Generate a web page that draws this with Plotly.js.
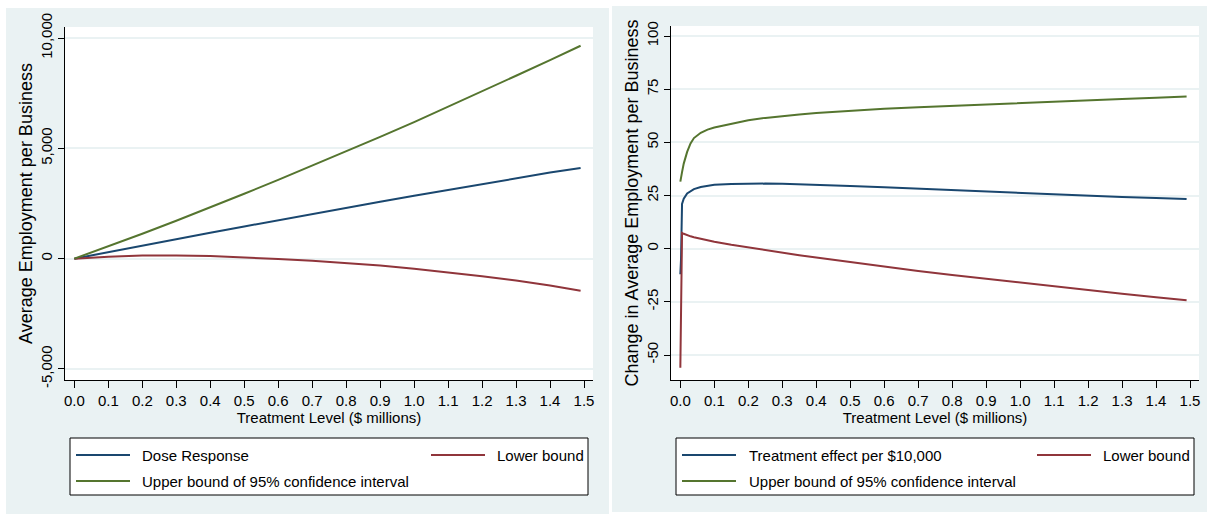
<!DOCTYPE html>
<html>
<head>
<meta charset="utf-8">
<script src="https://cdn.plot.ly/plotly-3.0.1.min.js"></script>
<style>
  html, body { margin: 0; padding: 0; background: #ffffff; }
  #chart { width: 1207px; height: 514px; }
</style>
</head>
<body>
<div id="chart"></div>
<script>
// ---------- Data ----------
// Left panel: dose response in $ millions of treatment
const leftX = [0, 0.1, 0.2, 0.3, 0.4, 0.5, 0.6, 0.7, 0.8, 0.9, 1.0, 1.1, 1.2, 1.3, 1.4, 1.49];
const doseResponse = [0, 300, 595, 885, 1175, 1460, 1745, 2025, 2305, 2580, 2850, 3120, 3385, 3645, 3900, 4110];
const lowerLeft = [0, 90, 140, 145, 115, 60, -10, -95, -195, -315, -455, -615, -795, -995, -1215, -1450];
const upperLeft = [0, 560, 1130, 1720, 2320, 2940, 3570, 4210, 4860, 5520, 6190, 6880, 7580, 8290, 9000, 9650];

// Right panel: treatment effect per $10,000
const rightX = [0, 0.002, 0.005, 0.01, 0.02, 0.03, 0.04, 0.06, 0.08, 0.1, 0.15, 0.2, 0.25, 0.3, 0.35, 0.4, 0.5, 0.6, 0.7, 0.8, 0.9, 1.0, 1.1, 1.2, 1.3, 1.4, 1.49];
const effectPer10k = [-12, -5, 21, 23.5, 26, 27.2, 28, 29, 29.6, 30, 30.4, 30.6, 30.6, 30.5, 30.3, 30.1, 29.5, 28.9, 28.2, 27.5, 26.8, 26.1, 25.5, 24.9, 24.3, 23.8, 23.4];
const lowerRight = [-56, -30, 7.4, 7.0, 6.3, 5.8, 5.4, 4.6, 3.9, 3.3, 1.8, 0.5, -0.7, -1.9, -3.1, -4.2, -6.4, -8.5, -10.5, -12.4, -14.2, -16.0, -17.8, -19.5, -21.2, -22.8, -24.3];
const upperRight = [31.5, 34, 36, 40, 45.5, 49.5, 52, 54.5, 56, 57, 58.8, 60.4, 61.5, 62.4, 63.1, 63.8, 64.9, 65.8, 66.5, 67.2, 67.9, 68.5, 69.1, 69.8, 70.4, 71.0, 71.6];

// Ticks & labels
const xTickVals = [0, 0.1, 0.2, 0.3, 0.4, 0.5, 0.6, 0.7, 0.8, 0.9, 1.0, 1.1, 1.2, 1.3, 1.4, 1.5];
const xTickText = ["0.0", "0.1", "0.2", "0.3", "0.4", "0.5", "0.6", "0.7", "0.8", "0.9", "1.0", "1.1", "1.2", "1.3", "1.4", "1.5"];
const leftYTickVals = [-5000, 0, 5000, 10000];
const leftYTickText = ["-5,000", "0", "5,000", "10,000"];
const rightYTickVals = [-50, -25, 0, 25, 50, 75, 100];
const rightYTickText = ["-50", "-25", "0", "25", "50", "75", "100"];

const xTitle = "Treatment Level ($ millions)";
const leftYTitle = "Average Employment per Business";
const rightYTitle = "Change in Average Employment per Business";
const leftNames = ["Dose Response", "Lower bound", "Upper bound of 95% confidence interval"];
const rightNames = ["Treatment effect per $10,000", "Lower bound", "Upper bound of 95% confidence interval"];

// ---------- Styling ----------
const W = 1207, H = 514;
const NAVY = "#1a476f", MAROON = "#90353b", GREEN = "#55752f";
const PANEL = "#eaf2f3";
const FONT = "Liberation Sans, Arial, Helvetica, sans-serif";
const px = x => x / W;
const py = y => 1 - y / H;

function line(x, y, color, xa, ya, name) {
  return { x: x, y: y, type: "scatter", mode: "lines", name: name,
           xaxis: xa, yaxis: ya, showlegend: false,
           line: { color: color, width: 2 }, hoverinfo: "x+y+name" };
}

const traces = [
  line(leftX, doseResponse, NAVY, "x", "y", leftNames[0]),
  line(leftX, lowerLeft, MAROON, "x", "y", leftNames[1]),
  line(leftX, upperLeft, GREEN, "x", "y", leftNames[2]),
  line(rightX, effectPer10k, NAVY, "x2", "y2", rightNames[0]),
  line(rightX, lowerRight, MAROON, "x2", "y2", rightNames[1]),
  line(rightX, upperRight, GREEN, "x2", "y2", rightNames[2])
];

const tickFont = { family: FONT, size: 15, color: "#000" };
const yTitleFont = { family: FONT, size: 18, color: "#000" };
function xAxis(domain, anchor) {
  return {
    domain: domain, anchor: anchor, range: [-0.0275, 1.5265],
    tickvals: xTickVals, ticktext: xTickText, tickfont: tickFont,
    ticks: "outside", ticklen: 7, tickcolor: "#000", tickwidth: 1,
    showline: true, linecolor: "#000", linewidth: 1,
    showgrid: false, zeroline: false, fixedrange: true,
    title: { text: xTitle, font: tickFont, standoff: 1 }
  };
}
function yAxis(domain, anchor, range, vals, text, title) {
  return {
    domain: domain, anchor: anchor, range: range,
    tickvals: vals, ticktext: text, tickfont: tickFont, tickangle: -90,
    ticks: "outside", ticklen: 6, tickcolor: "#000", tickwidth: 1,
    showline: true, linecolor: "#000", linewidth: 1,
    showgrid: true, gridcolor: PANEL, gridwidth: 2, zeroline: false, fixedrange: true,
    title: { text: title, font: yTitleFont, standoff: 0 }
  };
}

// Panels, plot areas and legend boxes
const shapes = [
  { type: "rect", xref: "paper", yref: "paper", x0: px(6), x1: px(609), y0: py(514), y1: py(8), fillcolor: PANEL, line: { width: 0 }, layer: "below" },
  { type: "rect", xref: "paper", yref: "paper", x0: px(612), x1: px(1207), y0: py(512), y1: py(6), fillcolor: PANEL, line: { width: 0 }, layer: "below" },
  { type: "rect", xref: "paper", yref: "paper", x0: px(65), x1: px(593), y0: py(380), y1: py(27), fillcolor: "#ffffff", line: { width: 0 }, layer: "below" },
  { type: "rect", xref: "paper", yref: "paper", x0: px(671), x1: px(1199), y0: py(380), y1: py(26), fillcolor: "#ffffff", line: { width: 0 }, layer: "below" }
];
const annotations = [];

function addLegend(left, right, names, sampleStarts, textStarts, colors, rows) {
  shapes.push({ type: "rect", xref: "paper", yref: "paper", x0: px(left), x1: px(right), y0: py(495), y1: py(438),
                fillcolor: "#ffffff", line: { color: "#000", width: 1 }, layer: "below" });
  for (let i = 0; i < names.length; i++) {
    const yy = rows[i];
    shapes.push({ type: "line", xref: "paper", yref: "paper", x0: px(sampleStarts[i]), x1: px(sampleStarts[i] + 54),
                  y0: py(yy), y1: py(yy), line: { color: colors[i], width: 2 } });
    annotations.push({ xref: "paper", yref: "paper", x: px(textStarts[i]), y: py(yy), xanchor: "left", yanchor: "middle",
                       text: names[i], showarrow: false, font: { family: FONT, size: 15, color: "#000" } });
  }
}
addLegend(70, 588, leftNames, [76, 431, 76], [140, 495, 140], [NAVY, MAROON, GREEN], [455, 455, 481]);
addLegend(676, 1194, rightNames, [682, 1037, 682], [747, 1101, 747], [NAVY, MAROON, GREEN], [455, 455, 481]);

const layout = {
  width: W, height: H,
  margin: { l: 0, r: 0, t: 0, b: 0 },
  paper_bgcolor: "#ffffff", plot_bgcolor: "rgba(0,0,0,0)",
  font: { family: FONT, size: 15, color: "#000" },
  showlegend: false,
  xaxis: xAxis([px(65), px(593)], "y"),
  yaxis: yAxis([py(380), py(27)], "x", [-5500, 10500], leftYTickVals, leftYTickText, leftYTitle),
  xaxis2: xAxis([px(671), px(1199)], "y2"),
  yaxis2: yAxis([py(380), py(26)], "x2", [-61.75, 104.7], rightYTickVals, rightYTickText, rightYTitle),
  shapes: shapes,
  annotations: annotations
};

Plotly.newPlot("chart", traces, layout, { displayModeBar: false, staticPlot: true });
</script>
</body>
</html>
